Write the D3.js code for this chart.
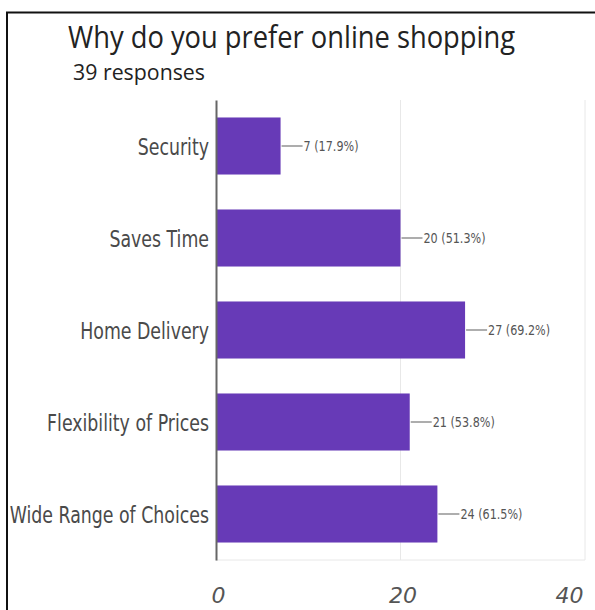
<!DOCTYPE html>
<html>
<head>
<meta charset="utf-8">
<script src="https://cdn.jsdelivr.net/npm/d3@7"></script>
<style>
  html, body { margin: 0; padding: 0; background: #fff; }
  svg { display: block; }
</style>
</head>
<body>
<svg id="chart" width="595" height="610"></svg>
<script>
// Survey answers: "Why do you prefer online shopping"
const categories = ["Security", "Saves Time", "Home Delivery", "Flexibility of Prices", "Wide Range of Choices"];
const counts = [7, 20, 27, 21, 24];
const totalResponses = 39;
const xTicks = [0, 20, 40];

const W = 595, H = 610;
const margin = { top: 100, right: 10, bottom: 50, left: 216 };
const plotRight = 585;

const svg = d3.select("#chart");
const labelFont = "'DejaVu Sans', sans-serif";
const labelSquash = 0.755; // narrow the label glyphs horizontally

// frame (top and left edges)
svg.append("path")
  .attr("d", `M7,${H} L7,12.5 L${W},12.5`)
  .attr("fill", "none").attr("stroke", "#111").attr("stroke-width", 2);

// heading
svg.append("text")
  .attr("x", 68).attr("y", 48)
  .attr("font-family", "'Open Sans', sans-serif")
  .attr("font-size", 31).attr("fill", "#222")
  .attr("textLength", 447).attr("lengthAdjust", "spacingAndGlyphs")
  .text("Why do you prefer online shopping");
svg.append("text")
  .attr("x", 73).attr("y", 80)
  .attr("font-family", "'Open Sans', sans-serif")
  .attr("font-size", 22).attr("fill", "#222")
  .attr("textLength", 132).attr("lengthAdjust", "spacingAndGlyphs")
  .text(`${totalResponses} responses`);

const x = d3.scaleLinear().domain([0, 40]).range([margin.left, plotRight]);
const y = d3.scaleBand().domain(categories).range([margin.top, H - margin.bottom]).paddingInner(0.38).paddingOuter(0.19);

const plotBottom = H - margin.bottom;

// vertical gridlines
svg.append("g").selectAll("line")
  .data(xTicks.filter(t => t > 0))
  .join("line")
  .attr("x1", d => x(d)).attr("x2", d => x(d))
  .attr("y1", margin.top).attr("y2", plotBottom)
  .attr("stroke", "#e8e8e8").attr("stroke-width", 1);

// baseline
svg.append("line")
  .attr("x1", margin.left).attr("x2", plotRight)
  .attr("y1", plotBottom).attr("y2", plotBottom)
  .attr("stroke", "#e8e8e8").attr("stroke-width", 1);

// bars
svg.append("g").selectAll("rect")
  .data(categories)
  .join("rect")
  .attr("x", x(0))
  .attr("y", d => y(d))
  .attr("width", (d, i) => x(counts[i]) - x(0))
  .attr("height", y.bandwidth())
  .attr("fill", "#673ab7");

// value annotations with leader lines
const ann = svg.append("g").selectAll("g")
  .data(categories)
  .join("g")
  .attr("transform", (d, i) => `translate(${x(counts[i])},${y(d) + y.bandwidth() / 2})`);
ann.append("line")
  .attr("x1", 1).attr("x2", 22).attr("y1", 0).attr("y2", 0)
  .attr("stroke", "#777").attr("stroke-width", 1.2);
ann.append("text")
  .attr("transform", "translate(23,0) scale(0.8,1)")
  .attr("dy", "0.35em")
  .attr("font-family", labelFont).attr("font-size", 14)
  .attr("fill", "#555")
  .text((d, i) => `${counts[i]} (${(counts[i] / totalResponses * 100).toFixed(1)}%)`);

// category axis
const yAxis = svg.append("g")
  .attr("transform", `translate(${margin.left},0)`)
  .call(d3.axisLeft(y).tickSize(0).tickPadding(8));
yAxis.select(".domain").attr("stroke", "#666").attr("stroke-width", 2);
yAxis.selectAll(".tick text")
  .attr("x", null)
  .attr("transform", `translate(-7,2) scale(${labelSquash},1)`)
  .attr("font-family", labelFont).attr("font-size", 23)
  .attr("fill", "#4a4a4a");

// value axis labels
const xAxis = svg.append("g")
  .attr("transform", `translate(0,${plotBottom})`)
  .call(d3.axisBottom(x).tickValues(xTicks).tickSize(0).tickPadding(27));
xAxis.select(".domain").remove();
xAxis.selectAll(".tick text")
  .attr("font-family", labelFont).attr("font-size", 22)
  .attr("fill", "#555").attr("font-style", "italic")
  .attr("text-anchor", (d, i) => i === xTicks.length - 1 ? "end" : "middle")
  .attr("dx", (d, i) => i === xTicks.length - 1 ? -2 : 2);
</script>
</body>
</html>
